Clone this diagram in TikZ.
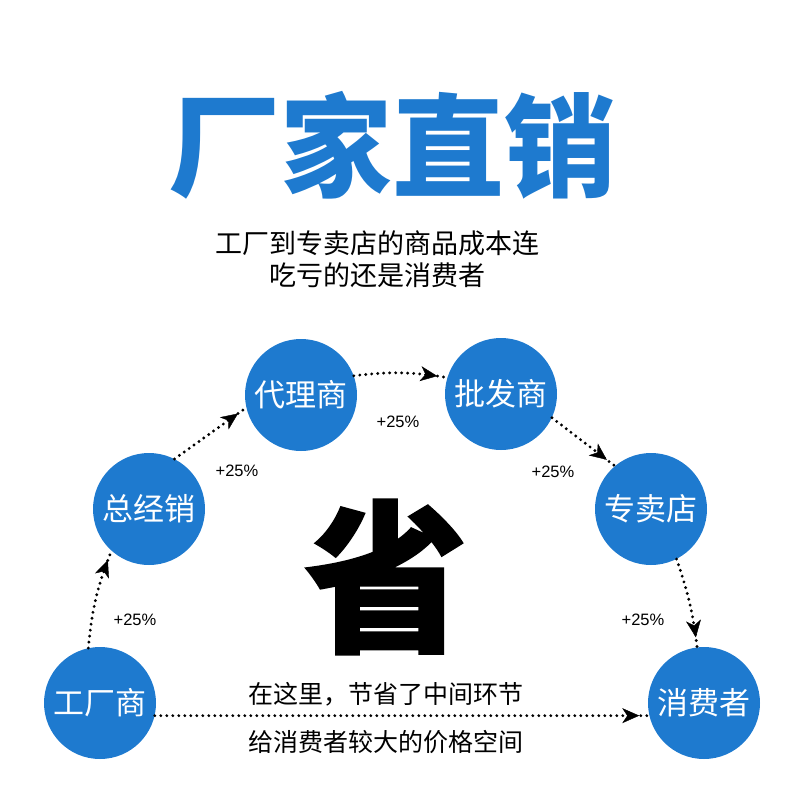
\documentclass[tikz,border=0pt]{standalone}
\usepackage{fontspec}
\setsansfont{Liberation Sans}
\newfontfamily\cjk{Noto Sans CJK SC}
\newfontfamily\cjkheavy{Noto Sans CJK SC}[FakeBold=1]
\usetikzlibrary{arrows.meta,decorations.markings}
\definecolor{shopblue}{RGB}{30,122,207}

\begin{document}
\begin{tikzpicture}[x = 1pt,
  y = -1pt,
  shop/.style = {circle, fill=shopblue, minimum size=112pt, inner sep=0pt,
    text=white, font=\cjk\fontsize{31}{31}\selectfont},
  flow/.style = {line width=3.2pt, dash pattern=on 0pt off 6pt, line cap=round,
    postaction={decorate},
    decoration={markings, mark=at position -10pt with
      {\arrow[line width=0.4pt]{Stealth[length=17pt,width=15pt,inset=5pt]}}}},
  rate/.style = {font=\sffamily\fontsize{16.5}{16.5}\selectfont}]

  % page
  \useasboundingbox (0,0) rectangle (800,811);

  % heading
  \node[text=shopblue, font=\cjk\bfseries\fontsize{112}{112}\selectfont]
  (title) at (392,145) {厂家直销};
  \node[align=center, font=\cjk\fontsize{27}{32}\selectfont]
  (sub) at (377,259) {工厂到专卖店的商品成本连\\吃亏的还是消费者};

  % the big character
  \node[font=\cjkheavy\bfseries\fontsize{164}{164}\selectfont]
  (sheng) at (386,577) {省};

  % chain of trade
  \node[shop] (gc)  at (100,703) {工厂商};
  \node[shop] (zjx) at (149,509) {总经销};
  \node[shop] (dls) at (301,395) {代理商};
  \node[shop] (pfs) at (501,394) {批发商};
  \node[shop] (zmd) at (651,509) {专卖店};
  \node[shop] (xfz) at (704,703) {消费者};

  \draw[flow] (gc.102) to[bend left=8] (zjx.228);
  \draw[flow] (zjx.63) to (dls.193);
  \draw[flow] (dls.20) to[bend left=8] (pfs.163);
  \draw[flow] (pfs.335) to (zmd.130);
  \draw[flow] (zmd.297) to[bend left=6] (xfz.97);
  \draw[flow] (gc.-13) -- (xfz.193);

  % markups
  \foreach \px/\py [count=\i] in {135/620, 237/471, 398/422, 553/472, 643/620}
  \node[rate] (rate\i) at (\px,\py) {+25\%};

  % notes on the direct line
  \node[font=\cjk\fontsize{25}{25}\selectfont] (note1) at (386,694) {在这里，节省了中间环节};
  \node[font=\cjk\fontsize{25}{25}\selectfont] (note2) at (386,742) {给消费者较大的价格空间};

\end{tikzpicture}
\end{document}
